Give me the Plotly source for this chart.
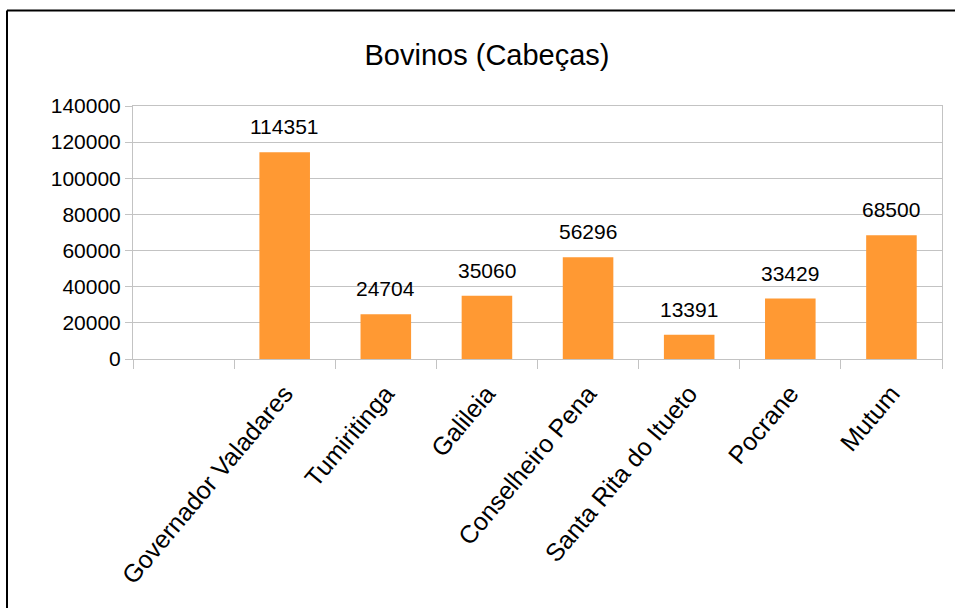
import plotly.graph_objects as go

categories = [" ", "Governador Valadares", "Tumiritinga", "Galileia", "Conselheiro Pena",
              "Santa Rita do Itueto", "Pocrane", "Mutum"]
values = [None, 114351, 24704, 35060, 56296, 13391, 33429, 68500]
y_ticks = [0, 20000, 40000, 60000, 80000, 100000, 120000, 140000]

FONT = "Liberation Sans, Arial, sans-serif"
BAR = "#ff9933"
GRID = "#c3c3c3"

fig = go.Figure()
fig.add_trace(go.Bar(x=categories, y=values, marker=dict(color=BAR, line=dict(width=0)),
                     hoverinfo="x+y"))

for c, v in zip(categories, values):
    if v is None:
        continue
    fig.add_annotation(x=c, y=v, text=str(v), showarrow=False, yanchor="bottom",
                       yshift=12, font=dict(family=FONT, size=21, color="#000000"))

W, H = 955, 608
L, R, T, B = 133, 13, 106, 249
pw, ph = W - L - R, H - T - B

def px(x):
    return (x - L) / pw

def py(y):
    return (H - B - y) / ph

# outer frame (left and top visible)
fig.add_shape(type="line", xref="paper", yref="paper", x0=px(7), x1=px(7), y0=py(10.5), y1=py(620),
              line=dict(color="#000000", width=2))
fig.add_shape(type="line", xref="paper", yref="paper", x0=px(7), x1=px(970), y0=py(10.5), y1=py(10.5),
              line=dict(color="#000000", width=2))

fig.update_layout(
    width=W, height=H,
    margin=dict(l=L, r=R, t=T, b=B, autoexpand=False),
    paper_bgcolor="white", plot_bgcolor="white",
    bargap=0.5,
    showlegend=False,
    font=dict(family=FONT, size=21, color="#000000"),
    title=dict(text="Bovinos (Cabeças)", x=487 / W, xref="container", xanchor="center",
               y=1 - 55 / H, yref="container", yanchor="middle",
               font=dict(family=FONT, size=29, color="#000000")),
    xaxis=dict(type="category", categoryorder="array", categoryarray=categories,
               tickson="boundaries", ticks="outside", ticklen=9, tickcolor=GRID, tickwidth=1,
               showline=True, linecolor=GRID, linewidth=1, mirror=True,
               showgrid=False, tickangle=-50, automargin=False, ticklabelstandoff=9,
               tickfont=dict(family=FONT, size=25, color="#000000")),
    yaxis=dict(range=[0, 140000], tickvals=y_ticks, ticktext=[str(t) for t in y_ticks],
               ticks="outside", ticklen=7, tickcolor=GRID, tickwidth=1,
               showline=True, linecolor=GRID, linewidth=1, mirror=True, automargin=False,
               showgrid=True, gridcolor=GRID, gridwidth=1, zeroline=False,
               tickfont=dict(family=FONT, size=21, color="#000000")),
)

fig.write_html("out.html", config={"displayModeBar": False},
               post_script="document.body.style.margin='0';document.body.style.overflow='hidden';")
